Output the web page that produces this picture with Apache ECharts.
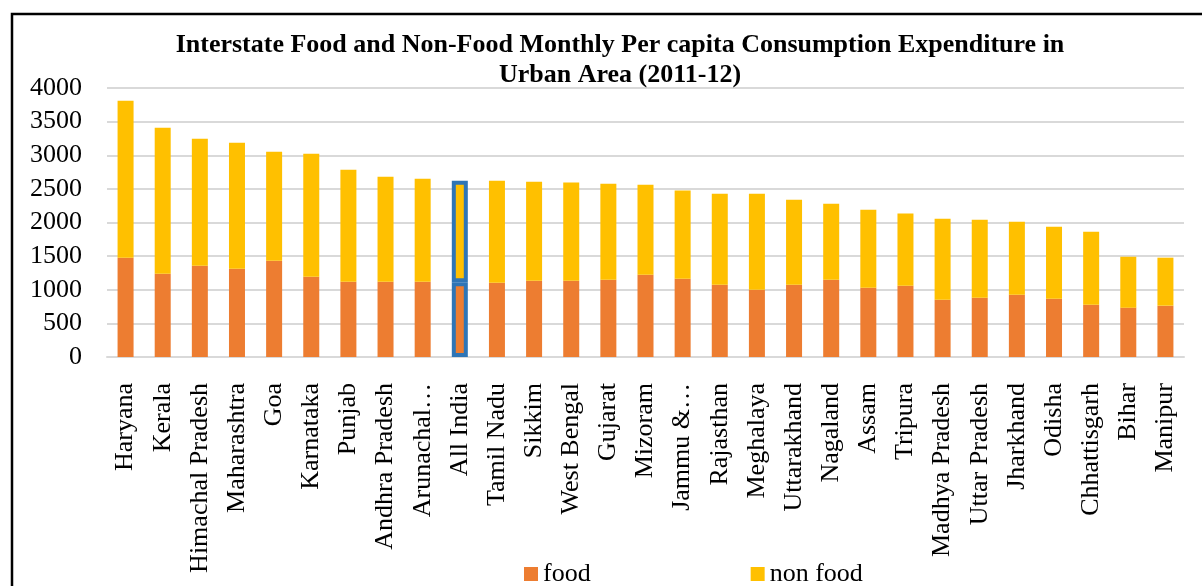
<!DOCTYPE html>
<html>
<head>
<meta charset="utf-8">
<script src="https://cdn.jsdelivr.net/npm/echarts@6/dist/echarts.min.js"></script>
<style>
html,body{margin:0;padding:0;background:#fff;}
#chart{width:1202px;height:586px;}
</style>
</head>
<body>
<div id="chart"></div>
<script>
const categories = ["Haryana","Kerala","Himachal Pradesh","Maharashtra","Goa","Karnataka","Punjab","Andhra Pradesh","Arunachal…","All India","Tamil Nadu","Sikkim","West Bengal","Gujarat","Mizoram","Jammu &…","Rajasthan","Meghalaya","Uttarakhand","Nagaland","Assam","Tripura","Madhya Pradesh","Uttar Pradesh","Jharkhand","Odisha","Chhattisgarh","Bihar","Manipur"];
const foodValues = [1477,1239,1358,1314,1433,1195,1120,1120,1120,1110,1105,1135,1135,1150,1224,1165,1076,1001,1076,1150,1031,1061,853,882,927,867,778,734,763];
const nonFoodValues = [2335,2171,1889,1873,1620,1829,1666,1562,1532,1510,1517,1472,1458,1428,1339,1309,1353,1428,1264,1130,1160,1071,1204,1160,1086,1071,1086,758,714];
const yTicks = [0,500,1000,1500,2000,2500,3000,3500,4000];
const highlightCategory = "All India";

const FONT = '"Liberation Serif","Times New Roman",serif';
const hl = { borderColor: '#2E75B6', borderWidth: 4 };
function mk(vals, color) {
  return vals.map((v, i) => categories[i] === highlightCategory
    ? { value: v, itemStyle: Object.assign({ color: color }, hl) }
    : v);
}

const chart = echarts.init(document.getElementById('chart'), null, { renderer: 'canvas' });
chart.setOption({
  animation: false,
  backgroundColor: '#fff',
  title: {
    text: 'Interstate Food and Non-Food Monthly Per capita Consumption Expenditure in\nUrban Area (2011-12)',
    left: 615, top: 25, textAlign: 'center',
    textStyle: { fontFamily: FONT, fontWeight: 'bold', fontSize: 26, lineHeight: 30, color: '#000' }
  },
  legend: {
    data: ['food', 'non food'],
    left: 519, top: 556,
    itemWidth: 14, itemHeight: 14, itemGap: 160,
    icon: 'rect',
    textStyle: { fontFamily: FONT, fontSize: 26, color: '#000' }
  },
  grid: { left: 107, right: 18, top: 88, bottom: 229, containLabel: false },
  xAxis: {
    type: 'category',
    data: categories,
    axisLine: { show: true, lineStyle: { color: '#D9D9D9', width: 2 } },
    axisTick: { show: false },
    axisLabel: { rotate: 90, margin: 26, interval: 0, fontFamily: FONT, fontSize: 26, color: '#000' }
  },
  yAxis: {
    type: 'value',
    min: yTicks[0], max: yTicks[yTicks.length - 1], interval: yTicks[1] - yTicks[0],
    axisLine: { show: false },
    axisTick: { show: false },
    splitLine: { lineStyle: { color: '#D9D9D9', width: 2 } },
    axisLabel: { margin: 25, fontFamily: FONT, fontSize: 26, color: '#000', formatter: v => String(v) }
  },
  series: [
    { name: 'food', type: 'bar', stack: 'total', barWidth: 16, itemStyle: { color: '#ED7D31' }, data: mk(foodValues, '#ED7D31') },
    { name: 'non food', type: 'bar', stack: 'total', barWidth: 16, itemStyle: { color: '#FFC000' }, data: mk(nonFoodValues, '#FFC000') }
  ],
  graphic: [{
    type: 'rect', silent: true, z: 100,
    shape: { x: 12, y: 14, width: 1200, height: 600 },
    style: { fill: 'none', stroke: '#000', lineWidth: 2.5 }
  }]
});
</script>
</body>
</html>
